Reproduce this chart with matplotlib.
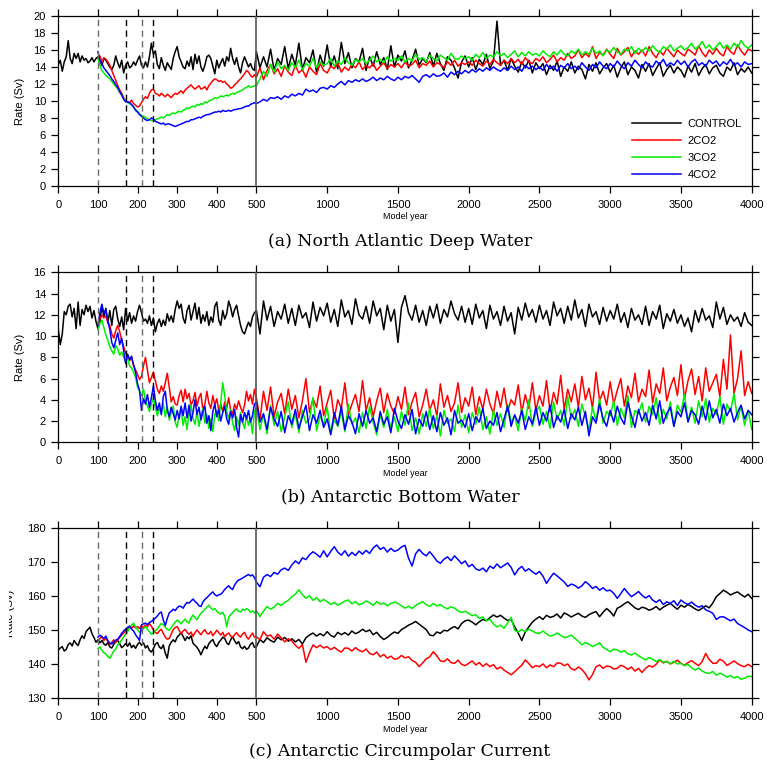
import numpy as np
import matplotlib
matplotlib.use("Agg")
import matplotlib.pyplot as plt
from matplotlib.transforms import Bbox, TransformedBbox

plt.rcParams['font.family'] = ['Liberation Sans', 'DejaVu Sans']

# ---------------- data ----------------
SERIES_NAMES = ["CONTROL", "2CO2", "3CO2", "4CO2"]
SERIES_COLORS = ["#000000", "#ff0000", "#00ee00", "#0000ff"]
PANEL_TITLES = ["(a) North Atlantic Deep Water", "(b) Antarctic Bottom Water",
                "(c) Antarctic Circumpolar Current"]
X_TICKS = [0, 100, 200, 300, 400, 500, 1000, 1500, 2000, 2500, 3000, 3500, 4000]
EVENT_YEARS = [100, 170, 210, 240]
BREAK_YEAR = 500

# ---- Panel (a) NADW ----
A_CTRL_L = [14.3, 14.8, 13.5, 14.6, 15.2, 17.1, 15.0, 14.4, 15.6, 15.0,
            15.6, 14.6, 15.3, 14.8, 15.0, 14.5, 14.7, 15.1, 14.6, 15.0,
            15.2, 14.7, 14.2, 15.0, 14.8, 14.4, 14.0, 13.7, 14.2, 15.3,
            14.5, 13.9, 14.8, 13.3, 14.2, 14.6, 13.9, 14.1, 14.6, 14.2,
            14.8, 15.3, 14.2, 13.9, 14.6, 14.0, 15.2, 16.8, 15.5, 15.9,
            14.3, 13.8, 15.1, 14.2, 13.6, 14.5, 14.1, 13.7, 15.0, 15.8,
            16.4, 15.2, 14.6, 14.0, 13.8, 14.7, 14.1, 15.2, 13.7, 15.5,
            14.4, 15.3, 14.0, 13.5, 14.2, 15.2, 15.4, 15.0, 14.1, 13.2,
            14.8, 13.9, 14.5, 15.0, 14.1, 15.2, 14.7, 16.2, 15.0, 14.3,
            15.1, 14.0, 13.3, 14.5, 15.2, 14.6, 14.0, 14.4, 13.8, 13.6]
A_2CO2_L = [15.0, 15.3, 14.6, 15.1, 14.9, 14.6, 14.2, 13.6, 13.0, 12.4,
            11.8, 11.3, 10.9, 10.4, 10.0, 9.9, 9.8, 10.1, 9.7, 9.5,
            9.3, 9.4, 9.8, 10.2, 10.5, 10.3, 10.9, 11.3, 11.4, 10.9,
            10.8, 10.6, 10.9, 10.7, 10.5, 10.8, 10.6, 10.4, 10.7, 10.9,
            10.8, 11.0, 11.2, 10.9, 11.3, 11.5, 11.7, 11.9, 11.6, 11.4,
            11.6, 11.8, 11.4, 11.5, 11.7, 11.3, 11.8, 12.1, 12.4, 12.6,
            12.5, 12.3, 12.4, 12.2, 12.3, 12.0, 11.8, 11.5, 11.6, 11.9,
            12.1, 12.4, 12.6, 12.9, 13.2, 13.6, 13.4, 13.0, 12.8, 13.1]
A_3CO2_L = [15.0, 14.2, 13.6, 13.3, 13.0, 12.8, 12.6, 12.3, 12.0, 11.7,
            11.4, 11.0, 10.7, 10.3, 10.0, 9.8, 9.7, 9.5, 9.3, 9.0,
            8.8, 8.5, 8.3, 8.2, 8.1, 7.9, 7.8, 7.7, 7.7, 7.8,
            7.9, 8.0, 8.1, 8.0, 8.2, 8.4, 8.3, 8.5, 8.6, 8.5,
            8.7, 8.8, 8.7, 8.9, 9.0, 9.2, 9.1, 9.3, 9.4, 9.3,
            9.6, 9.5, 9.7, 9.6, 9.9, 9.8, 10.0, 10.1, 10.2, 10.4,
            10.3, 10.4, 10.6, 10.5, 10.6, 10.7, 10.6, 10.8, 10.9, 10.8,
            11.0, 11.1, 11.2, 11.3, 11.5, 11.6, 11.8, 11.6, 11.7, 11.8]
A_4CO2_L = [15.8, 14.8, 14.4, 13.9, 13.6, 13.3, 13.0, 12.6, 12.3, 11.9,
            11.6, 11.1, 10.7, 10.2, 9.9, 9.9, 9.8, 9.6, 9.3, 8.9,
            8.7, 8.4, 8.2, 8.0, 7.8, 7.7, 7.8, 8.0, 7.9, 7.6,
            7.5, 7.4, 7.3, 7.4, 7.2, 7.3, 7.3, 7.2, 7.1, 7.0,
            7.1, 7.2, 7.3, 7.4, 7.5, 7.6, 7.6, 7.8, 7.8, 7.9,
            8.0, 8.1, 8.0, 8.2, 8.3, 8.4, 8.4, 8.5, 8.6, 8.7,
            8.7, 8.8, 8.7, 8.9, 8.8, 8.8, 8.9, 8.8, 8.9, 9.0,
            9.0, 9.1, 9.1, 9.2, 9.3, 9.4, 9.4, 9.6, 9.7, 9.8]
A_CTRL_R = [15.8, 13.9, 15.2, 14.0, 16.1, 13.6, 15.0, 14.3, 16.4, 13.8,
            15.5, 14.2, 16.8, 13.7, 15.1, 14.5, 16.0, 13.4, 15.4, 14.1,
            16.6, 14.0, 15.3, 13.8, 16.9, 14.4, 15.7, 13.9, 15.0, 14.6,
            16.2, 13.6, 15.2, 14.1, 15.8, 14.3, 15.1, 13.7, 16.5, 14.0,
            15.4, 14.7, 15.9, 13.9, 14.8, 16.1, 14.2, 15.0, 14.5, 15.7,
            14.1, 15.6, 14.4, 13.6, 15.2, 14.8, 13.9, 12.7, 14.6, 15.3,
            14.0, 15.1, 13.7, 14.9, 14.3, 15.5, 13.8, 14.7, 19.4, 14.2,
            14.8, 13.6, 15.0, 14.1, 13.4, 14.6, 13.9, 14.8, 13.3, 14.5,
            13.8, 14.4, 13.1, 14.2, 13.6, 14.7, 12.9, 14.0, 13.5, 14.6,
            13.3, 14.1, 13.7, 12.6, 14.3, 13.5, 14.5, 13.2, 13.9, 14.4,
            13.4, 14.2, 12.8, 13.9, 14.6, 13.1, 14.0, 13.6, 12.7, 14.3,
            13.5, 14.4, 13.0, 13.8, 14.5, 12.9, 13.7, 14.2, 13.3, 14.0,
            13.6, 12.8, 14.1, 13.4, 14.4, 13.0, 13.8, 14.3, 13.2, 13.9,
            14.2, 13.3, 12.9, 14.0, 13.6, 14.5, 13.1, 13.8, 13.4, 14.0,
            13.3]
A_2CO2_R = [12.8, 13.9, 12.5, 13.6, 14.3, 13.2, 13.8, 12.9, 14.1, 13.4,
            13.0, 14.2, 13.3, 13.7, 12.8, 14.0, 13.5, 13.1, 14.4, 13.6,
            13.3, 14.1, 13.8, 14.5, 13.4, 14.0, 13.6, 14.3, 13.9, 14.6,
            13.7, 14.2, 13.9, 14.4, 13.6, 14.1, 14.5, 13.8, 14.3, 14.0,
            14.4, 13.9, 14.6, 14.1, 14.3, 14.8, 13.9, 14.4, 14.2, 14.7,
            14.0, 14.5, 14.3, 13.9, 14.6, 14.2, 14.8, 14.1, 14.5, 14.3,
            14.6, 14.2, 14.8, 14.4, 14.1, 14.7, 14.3, 14.9, 14.5, 14.2,
            14.8, 14.4, 15.0, 14.5, 14.9, 14.3, 15.1, 14.6, 14.4, 15.0,
            14.7, 15.2, 14.5, 14.9, 15.4, 14.6, 15.1, 14.8, 15.6, 15.0,
            15.3, 16.0, 15.1, 15.6, 15.2, 16.4, 15.0, 15.7, 15.4, 16.1,
            15.5, 15.0, 16.2, 15.4, 15.8, 16.3, 15.2, 15.9, 15.5, 16.0,
            15.3, 16.4, 15.6, 15.1, 15.9, 15.4, 16.2, 15.7, 15.2, 16.0,
            15.6, 15.3, 16.1, 15.8, 15.4, 16.5, 15.7, 15.2, 16.0, 15.5,
            16.2, 15.6, 15.3, 16.4, 15.8, 15.5, 16.6, 15.9, 15.4, 16.1,
            15.9]
A_3CO2_R = [11.8, 12.6, 13.5, 12.9, 14.3, 13.4, 14.6, 13.8, 14.2, 13.6,
            14.5, 13.9, 14.8, 13.7, 14.4, 14.1, 15.0, 13.9, 14.6, 14.2,
            14.4, 15.0, 14.1, 14.7, 14.3, 15.1, 14.5, 14.2, 14.9, 14.6,
            15.0, 14.4, 14.8, 15.3, 14.6, 14.9, 14.5, 15.2, 14.7, 15.0,
            14.8, 15.3, 14.6, 15.0, 14.7, 15.5, 14.9, 15.1, 14.6, 15.4,
            15.0, 14.7, 15.4, 15.1, 14.8, 15.6, 15.0, 14.9, 15.3, 15.0,
            15.2, 14.8, 15.5, 15.1, 15.7, 15.0, 15.4, 15.2, 15.8, 15.3,
            15.6, 15.1, 15.5, 15.9, 15.2, 15.7, 15.3, 15.8, 15.4, 15.6,
            15.3, 15.9, 15.5, 15.2, 15.8, 15.4, 16.0, 15.5, 15.3, 15.9,
            15.6, 16.1, 15.4, 15.8, 15.5, 16.2, 15.6, 15.9, 15.3, 16.0,
            15.7, 16.3, 15.8, 15.5, 16.1, 15.9, 16.4, 15.6, 16.2, 15.8,
            16.3, 15.9, 16.5, 16.0, 15.7, 16.4, 16.1, 16.6, 15.9, 16.2,
            16.5, 16.0, 16.3, 16.8, 16.1, 16.4, 17.0, 16.2, 16.6, 16.0,
            16.4, 16.9, 16.2, 16.6, 16.1, 16.8, 16.3, 17.1, 16.5, 16.2,
            16.6]
A_4CO2_R = [9.7, 9.9, 10.2, 10.0, 10.4, 10.3, 10.5, 10.2, 10.6, 10.4,
            10.8, 10.6, 10.9, 10.7, 11.4, 11.1, 11.3, 11.0, 11.5, 11.6,
            11.4, 11.8, 11.6, 12.0, 12.3, 11.9, 12.4, 12.2, 12.5, 12.3,
            12.6, 12.3, 12.5, 12.8, 12.4, 12.7, 12.5, 12.9, 12.6, 12.4,
            12.8, 12.5, 12.9, 12.7, 13.0, 12.6, 12.2, 12.9, 13.1, 12.8,
            13.2, 12.9, 13.0, 13.3, 12.8, 13.4, 13.1, 13.5, 13.2, 13.6,
            13.3, 13.7, 13.4, 13.8, 13.5, 13.9, 13.6, 14.0, 13.7, 13.5,
            13.9, 13.6, 14.1, 13.7, 14.0, 13.5, 14.2, 13.8, 14.1, 13.7,
            14.0, 13.6, 14.3, 13.8, 14.1, 13.5, 14.2, 13.9, 14.4, 13.8,
            14.1, 13.7, 14.5, 14.0, 13.6, 14.3, 13.9, 14.6, 14.1, 13.8,
            14.4, 14.0, 14.7, 14.2, 13.8, 14.5, 14.1, 14.8, 14.3, 13.9,
            14.6, 14.2, 14.0, 14.7, 14.3, 14.9, 14.1, 14.5, 14.2, 14.8,
            14.3, 14.7, 14.0, 14.6, 14.9, 14.2, 14.5, 14.1, 14.8, 14.4,
            14.7, 14.1, 14.6, 14.3, 14.9, 14.2, 14.5, 14.0, 14.6, 14.3,
            14.4]

# ---- Panel (b) AABW ----
B_CTRL_L = [10.6, 9.2, 10.2, 12.3, 12.0, 12.8, 13.0, 11.8, 12.6, 10.7,
            13.2, 11.0, 12.5, 12.0, 12.9, 12.3, 12.8, 11.7, 12.4, 11.4,
            10.7, 11.3, 12.9, 11.8, 12.6, 11.2, 12.4, 11.0, 12.5, 12.8,
            11.6, 10.9, 11.8, 10.6, 12.6, 11.4, 12.2, 11.2, 11.9, 11.4,
            12.3, 12.9, 12.2, 11.4, 11.6, 11.2, 11.9, 11.0, 11.7, 10.4,
            11.2, 11.6, 10.9, 11.5, 11.0, 12.1, 11.4, 11.9, 11.3, 12.5,
            13.3, 12.6, 13.0, 11.7, 11.2, 12.4, 12.9, 11.5, 12.3, 13.1,
            11.6, 12.7, 11.2, 12.0, 11.4, 12.3, 11.0, 11.8, 11.3, 12.8,
            13.2, 11.5, 11.0, 12.4, 11.6, 12.1, 13.3, 12.7, 11.8, 12.5,
            12.9, 11.9, 11.0, 10.4, 10.2, 10.8, 11.3, 10.9, 11.8, 12.2]
B_2CO2_L = [11.2, 11.6, 12.0, 11.7, 11.9, 11.3, 11.0, 10.2, 9.8, 10.5,
            11.0, 10.4, 9.6, 9.0, 8.4, 8.0, 7.7, 7.9, 7.2, 6.8,
            6.4, 5.9, 6.2, 7.2, 8.0, 6.8, 5.6, 6.1, 6.6, 5.8,
            5.0, 4.6, 5.3, 4.8, 5.6, 6.5, 5.2, 3.8, 4.3, 3.6,
            3.5, 4.4, 4.9, 3.8, 5.0, 4.1, 4.6, 3.5, 3.9, 4.7,
            3.4, 4.2, 4.6, 3.0, 3.6, 4.8, 3.7, 3.2, 4.4, 3.5,
            4.1, 3.0, 3.6, 2.9, 3.8, 3.2, 4.2, 3.0, 2.7, 3.6,
            3.1, 3.9, 3.3, 2.8, 3.5, 4.8, 3.9, 4.5, 3.6, 5.0]
B_3CO2_L = [10.6, 11.2, 11.5, 10.8, 10.1, 9.6, 9.0, 8.6, 8.3, 9.1,
            8.8, 8.2, 8.5, 8.0, 7.6, 7.9, 7.2, 7.0, 6.6, 6.1,
            5.2, 4.8, 4.4, 5.0, 3.9, 3.4, 2.9, 3.6, 4.1, 3.3,
            2.5, 3.2, 2.8, 3.6, 2.4, 3.3, 2.1, 2.8, 3.4, 1.9,
            1.4, 2.7, 3.1, 1.6, 2.4, 1.2, 2.8, 3.5, 2.2, 1.7,
            2.9, 1.5, 2.5, 3.2, 1.8, 2.6, 1.3, 2.2, 1.0, 2.6,
            3.0, 2.0, 3.8, 5.6, 4.4, 2.9, 2.2, 3.1, 1.8, 1.1,
            2.4, 1.6, 2.8, 1.9, 1.3, 2.5, 1.6, 2.3, 0.8, 2.9]
B_4CO2_L = [11.0, 12.2, 13.0, 12.1, 12.5, 11.4, 10.6, 9.4, 8.9, 9.6,
            10.3, 9.2, 9.8, 8.6, 7.4, 8.3, 7.8, 8.1, 7.3, 6.6,
            5.5, 4.9, 3.0, 4.1, 3.6, 4.5, 3.3, 4.2, 5.3, 3.9,
            3.0, 3.7, 2.6, 4.3, 4.8, 3.1, 2.4, 3.3, 2.7, 2.1,
            3.0, 2.2, 3.4, 2.5, 3.7, 2.3, 3.5, 2.0, 2.8, 4.0,
            2.6, 3.3, 2.1, 2.9, 3.4, 1.8, 2.5, 1.1, 2.9, 3.6,
            2.4, 3.1, 2.0, 2.8, 3.4, 2.2, 1.7, 2.9, 2.3, 3.1,
            1.4, 0.5, 2.6, 1.9, 2.8, 2.2, 3.0, 1.9, 2.5, 3.6]
B_CTRL_R = [12.4, 10.2, 13.3, 11.5, 12.8, 10.9, 12.3, 11.6, 13.0, 11.2,
            12.6, 11.0, 12.9, 11.7, 12.2, 10.8, 13.2, 11.4, 12.7, 11.9,
            13.1, 11.3, 12.5, 10.9, 13.4, 11.8, 12.4, 11.1, 13.5, 12.0,
            11.6, 12.8, 11.2, 13.3, 11.9, 12.6, 10.6, 12.9, 11.4, 12.5,
            9.4, 12.7, 13.8, 12.2, 11.5, 12.9, 11.3, 12.4, 11.0, 12.8,
            11.7, 13.0, 11.2, 12.5, 11.8, 13.3, 12.1, 11.5, 12.8, 11.3,
            12.6, 11.1, 13.0, 11.7, 12.4, 10.7, 12.9, 11.6, 12.3, 11.0,
            12.8, 11.4, 12.2, 10.2, 12.7, 11.5, 13.1, 11.8, 12.5, 11.3,
            12.9, 11.6, 12.4, 11.0, 13.2, 11.9, 12.6, 11.2, 12.8, 11.5,
            13.4, 11.7, 12.5, 10.9, 13.0, 11.8, 12.3, 11.1, 12.7, 11.4,
            12.4, 11.6, 13.0, 11.3, 12.2, 10.8, 12.6, 11.5, 12.0, 11.1,
            12.8, 11.0, 12.3, 11.6, 12.9, 10.7, 12.1, 11.4, 12.5, 11.2,
            12.0, 10.9, 11.7, 10.4, 12.4, 11.3, 12.6, 11.5, 11.9, 10.8,
            13.2, 11.6, 12.7, 11.1, 12.0, 11.4, 11.8, 10.9, 12.2, 11.3,
            11.0]
B_2CO2_R = [4.2, 2.1, 4.8, 3.0, 5.2, 2.4, 3.8, 4.6, 2.7, 5.0,
            3.1, 4.4, 2.3, 3.9, 6.0, 2.8, 4.1, 3.3, 5.3, 2.5,
            3.7, 4.9, 2.2, 4.0, 3.2, 5.6, 2.6, 3.6, 4.5, 2.9,
            5.8, 3.0, 4.2, 2.4, 3.9, 5.1, 2.8, 4.6, 3.4, 2.7,
            4.3, 3.1, 5.2, 2.6, 3.8, 4.7, 2.4, 3.5, 5.0, 3.0,
            4.0, 2.5, 5.5, 3.3, 4.4, 2.9, 3.7, 5.6, 2.8, 4.2,
            3.4, 5.2, 2.6, 4.3, 3.1, 5.0, 3.6, 2.7, 4.8, 3.3,
            5.1, 2.9, 4.0, 3.5, 5.4, 2.8, 4.5, 3.2, 5.6, 3.0,
            4.4, 3.4, 5.8, 2.9, 4.7, 3.6, 6.3, 3.1, 5.0, 3.8,
            5.5, 3.3, 6.2, 4.0, 5.1, 3.2, 6.6, 3.9, 4.8, 3.5,
            5.7, 3.6, 4.9, 6.0, 3.4, 5.3, 4.2, 6.5, 3.8, 5.0,
            4.3, 6.8, 3.7, 5.5, 4.6, 7.0, 3.9, 5.2, 6.1, 4.4,
            7.3, 4.1, 5.8, 6.9, 4.5, 6.2, 3.9, 7.0, 4.8, 5.6,
            6.4, 4.3, 7.8, 5.0, 10.1, 4.6, 6.0, 8.6, 4.4, 5.7,
            4.6]
B_3CO2_R = [3.2, 1.2, 2.6, 0.8, 3.5, 1.6, 2.9, 1.0, 2.4, 3.8,
            1.4, 2.7, 0.9, 3.0, 1.8, 2.2, 4.2, 1.1, 2.5, 1.6,
            3.3, 0.8, 2.1, 1.5, 2.9, 1.0, 3.6, 1.7, 2.3, 0.9,
            2.8, 1.3, 3.4, 1.9, 0.7, 2.6, 1.4, 3.1, 1.2, 2.4,
            1.0, 2.9, 1.6, 3.7, 1.1, 2.3, 0.8, 2.7, 1.5, 3.2,
            1.3, 2.5, 0.6, 3.0, 1.8, 2.2, 1.0, 3.5, 1.4, 2.6,
            0.9, 2.8, 1.7, 3.3, 1.2, 2.4, 0.8, 3.0, 1.6, 2.7,
            1.4, 3.6, 1.9, 2.5, 1.1, 3.2, 2.0, 4.0, 1.5, 2.8,
            3.4, 1.7, 2.9, 1.3, 3.8, 2.1, 3.0, 1.6, 4.3, 2.2,
            3.1, 1.5, 3.6, 2.4, 1.2, 3.3, 2.0, 4.1, 1.8, 2.9,
            2.5, 3.9, 1.6, 3.2, 2.3, 4.4, 1.4, 3.0, 2.7, 3.7,
            1.9, 3.4, 2.6, 4.2, 1.7, 3.1, 2.2, 3.8, 1.5, 3.5,
            2.8, 4.5, 2.0, 3.3, 1.8, 3.9, 2.4, 4.1, 1.9, 3.2,
            2.6, 4.3, 1.7, 3.6, 2.9, 4.6, 2.1, 3.4, 1.6, 3.0,
            1.2]
B_4CO2_R = [3.8, 1.9, 2.7, 1.2, 3.3, 2.2, 1.5, 2.9, 0.9, 2.5,
            1.7, 3.1, 1.3, 2.4, 3.5, 1.1, 2.6, 1.8, 3.0, 1.4,
            2.2, 0.7, 2.8, 1.6, 3.4, 1.2, 2.5, 1.9, 0.8, 2.7,
            1.5, 3.0, 1.8, 2.3, 1.0, 2.9, 1.7, 2.4, 0.9, 3.2,
            2.0, 1.3, 2.6, 1.7, 3.1, 0.8, 2.2, 1.5, 2.9, 1.2,
            2.5, 1.0, 2.8, 1.6, 2.3, 0.7, 3.0, 1.8, 2.1, 1.4,
            2.7, 1.1, 2.4, 1.9, 3.2, 1.3, 2.0, 1.6, 2.8, 1.0,
            2.2, 3.4, 1.5, 2.6, 1.8, 3.0, 1.2, 2.4, 1.7, 3.3,
            1.6, 2.8, 2.0, 3.5, 1.4, 2.5, 1.9, 3.1, 1.3, 2.7,
            2.1, 3.3, 1.6, 2.9, 0.6, 2.4, 1.8, 3.6, 2.2, 1.5,
            3.0, 1.9, 3.4, 2.3, 1.7, 3.8, 2.5, 1.4, 3.1, 2.0,
            2.8, 1.6, 3.5, 2.2, 3.9, 1.8, 2.7, 3.3, 1.5, 2.9,
            2.4, 3.7, 1.9, 3.0, 2.6, 1.7, 3.4, 2.1, 3.9, 2.3,
            3.1, 1.8, 3.6, 2.5, 3.2, 1.9, 2.8, 3.5, 2.2, 3.0,
            2.6]

# ---- Panel (c) ACC ----
C_CTRL_L = [144.2, 144.8, 145.2, 143.9, 144.4, 145.8, 146.3, 145.4, 147.0, 146.1,
            145.5, 147.2, 148.4, 147.6, 149.6, 150.3, 150.9, 149.0, 147.9, 146.5,
            147.2, 146.3, 147.0, 146.0, 145.6, 146.4, 145.1, 144.8, 145.9, 146.6,
            147.1, 146.0, 144.9, 145.4, 146.1, 145.3, 146.3, 144.9, 145.6, 144.7,
            145.8, 146.5, 145.6, 146.3, 144.8, 145.5, 144.1, 143.6, 144.6, 145.9,
            146.4, 145.1, 144.6, 145.7, 143.3, 141.8, 145.4, 146.5, 147.2, 146.6,
            148.0, 148.6, 149.3, 148.2, 147.0, 148.1, 147.5, 148.4, 146.2, 145.6,
            145.0, 144.1, 142.8, 144.2, 145.3, 144.6, 146.1, 146.8, 147.3, 145.9,
            145.2, 146.4, 147.1, 148.0, 147.6, 146.3, 145.8, 147.2, 148.1, 146.9,
            146.0, 146.7, 145.1, 144.6, 145.3, 144.4, 144.8, 145.9, 146.4, 145.0]
C_2CO2_L = [146.5, 147.6, 148.2, 147.0, 147.6, 146.8, 145.8, 146.5, 147.2, 146.4,
            147.1, 147.9, 148.6, 149.2, 149.8, 150.4, 151.2, 150.6, 151.3, 150.7,
            151.1, 150.5, 151.4, 150.8, 151.6, 151.0, 152.0, 151.2, 150.1, 149.4,
            149.0, 149.8, 150.3, 149.1, 148.0, 147.4, 147.6, 148.9, 150.2, 150.8,
            151.1, 150.0, 149.0, 149.8, 150.3, 149.4, 148.8, 149.5, 148.2, 149.3,
            150.1, 149.4, 148.7, 149.6, 150.2, 149.1, 148.9, 149.7, 148.4, 149.2,
            150.0, 149.3, 148.6, 149.4, 148.1, 148.8, 149.2, 148.3, 147.9, 148.7,
            149.3, 148.5, 148.0, 148.9, 149.4, 148.1, 147.4, 148.3, 149.2, 148.0]
C_3CO2_L = [144.6, 145.1, 144.2, 143.4, 143.0, 142.3, 141.8, 142.8, 143.9, 144.5,
            145.8, 146.3, 147.2, 148.0, 148.9, 149.6, 150.8, 151.5, 152.1, 151.0,
            150.2, 149.4, 149.8, 150.5, 151.1, 150.3, 149.6, 148.8, 149.2, 149.9,
            150.4, 151.3, 152.0, 151.6, 150.9, 150.3, 150.0, 150.8, 151.6, 152.4,
            153.0, 152.6, 151.9, 152.7, 153.3, 152.5, 152.1, 153.6, 154.5, 153.7,
            153.1, 154.2, 155.0, 155.6, 156.2, 156.8, 157.4, 156.6, 156.0, 156.4,
            155.6, 155.1, 154.8, 155.3, 154.2, 151.0, 153.8, 154.6, 155.2, 155.9,
            156.3, 155.6, 155.4, 156.2, 155.8, 156.4, 156.0, 155.3, 155.7, 155.1]
C_4CO2_L = [148.0, 148.6, 148.1, 147.6, 148.3, 147.0, 146.2, 146.0, 146.6, 147.1,
            147.4, 148.2, 149.1, 149.8, 150.4, 150.9, 151.2, 150.3, 149.8, 148.7,
            147.9, 147.0, 151.6, 151.9, 152.1, 151.7, 152.3, 152.6, 153.1, 153.6,
            154.2, 155.0, 155.4, 153.0, 151.4, 153.5, 155.1, 155.6, 156.2, 155.8,
            156.6, 157.1, 157.0, 156.5, 157.5, 158.2, 158.0, 158.6, 159.2, 158.5,
            158.0, 157.2, 157.0, 158.3, 159.1, 159.6, 160.2, 160.8, 161.3, 160.5,
            160.1, 160.4, 160.6, 161.2, 162.0, 162.6, 163.1, 162.4, 162.0, 163.3,
            164.2, 164.8, 165.0, 165.4, 165.7, 166.1, 166.4, 166.0, 166.3, 165.5]
C_CTRL_R = [145.2, 147.3, 146.4, 147.8, 147.0, 146.5, 148.0, 147.2, 147.9, 146.8,
            147.5, 146.6, 147.3, 146.0, 147.8, 148.6, 149.2, 148.3, 149.0, 148.4,
            149.6, 148.5, 148.0, 149.4, 148.7, 149.3, 148.6, 149.8, 149.0, 149.5,
            150.3, 149.6, 150.1, 148.7, 149.4, 148.2, 147.3, 147.9, 148.8, 149.5,
            149.1, 150.2, 150.8, 151.5, 152.0, 152.6, 151.8, 151.0, 150.2, 148.6,
            148.4, 149.5, 149.1, 150.0, 149.8, 150.6, 151.1, 150.4, 152.0, 152.8,
            153.0, 152.4, 151.6, 152.5, 153.2, 152.8, 153.7, 154.5, 153.9, 154.4,
            153.6, 152.9, 153.2, 151.0, 149.2, 147.0, 149.5, 151.0, 152.4, 153.3,
            154.0, 153.2, 154.4, 153.8, 154.1, 154.8, 153.6, 155.1, 154.6, 153.9,
            154.5, 155.0, 154.2, 153.8, 154.6, 155.1, 155.5, 154.0, 155.3, 156.4,
            155.5, 154.2, 156.5, 157.0, 157.8, 158.4, 157.5, 156.6, 156.1, 156.8,
            156.5, 155.9, 156.3, 157.0, 156.0, 156.8, 157.4, 157.9, 157.0, 156.2,
            157.4, 156.8, 157.6, 157.0, 156.3, 155.8, 156.5, 157.2, 156.6, 158.0,
            159.9, 160.8, 161.8, 161.2, 160.4, 160.9, 161.3, 160.5, 159.8, 160.6,
            159.4]
C_2CO2_R = [148.1, 147.2, 149.6, 148.3, 148.6, 147.4, 148.9, 147.8, 146.6, 147.5,
            146.9, 145.6, 144.7, 145.8, 140.6, 143.4, 145.7, 144.9, 145.6, 144.8,
            145.2, 144.3, 145.0, 144.2, 143.6, 144.8, 144.7, 143.9, 144.9, 144.1,
            143.7, 144.5, 143.2, 142.8, 143.6, 142.2, 142.9, 141.8, 142.4, 141.5,
            141.7, 142.6, 141.9, 142.2, 141.1, 140.6, 139.3, 140.4, 141.6, 142.2,
            143.7, 142.5, 141.0, 140.8, 141.6, 140.5, 140.3, 141.2, 140.0, 139.6,
            140.3, 141.0, 139.8, 140.5, 139.4, 140.2, 139.3, 139.9, 138.6, 139.2,
            138.3, 137.6, 136.9, 137.8, 138.8, 139.7, 141.3, 140.2, 139.0, 139.6,
            139.3, 140.1, 139.0, 139.8, 139.3, 140.4, 140.3, 139.6, 140.1, 138.7,
            138.3, 139.2, 138.5, 137.2, 135.4, 137.0, 139.3, 139.8, 138.8, 139.5,
            139.3, 138.6, 138.8, 139.7, 139.3, 138.5, 139.2, 138.0, 138.8, 137.6,
            138.8, 139.6, 139.2, 140.0, 141.3, 140.4, 140.9, 140.1, 140.6, 141.2,
            140.3, 139.7, 140.5, 141.1, 140.3, 139.6, 140.8, 143.2, 141.4, 140.3,
            140.3, 141.5, 140.9, 139.7, 140.3, 141.0, 140.2, 139.6, 139.3, 140.0,
            139.3]
C_3CO2_R = [155.8, 154.0, 155.6, 157.0, 156.2, 156.8, 157.9, 157.3, 158.2, 158.8,
            159.9, 160.6, 161.9, 160.5, 159.4, 160.2, 158.8, 159.6, 158.4, 159.1,
            158.4, 157.6, 158.2, 157.4, 157.9, 158.6, 158.9, 157.8, 158.4, 157.5,
            157.9, 158.6, 158.1, 157.3, 158.4, 157.7, 158.0, 157.2, 157.9, 158.3,
            157.9, 157.2, 156.5, 157.1, 156.4, 157.3, 157.9, 158.4, 157.6, 157.0,
            157.9, 157.2, 157.6, 156.8, 156.3, 156.9, 156.5, 155.7, 155.2, 155.6,
            155.0, 154.3, 154.6, 153.5, 153.9, 152.8, 153.2, 151.9, 151.0, 151.5,
            150.6, 152.1, 153.8, 150.0, 149.5, 150.2, 149.6, 150.3, 149.8, 149.2,
            149.1, 149.8, 149.0, 148.3, 148.6, 149.2, 148.5, 147.9, 148.1, 148.6,
            147.6, 146.8, 145.7, 146.4, 145.9, 145.2, 145.7, 146.3, 145.0, 144.4,
            143.7, 144.5, 144.2, 143.6, 144.0, 143.1, 142.7, 143.3, 142.5, 141.9,
            141.3, 142.0, 141.5, 140.8, 141.4, 140.6, 140.8, 140.2, 140.9, 140.1,
            140.3, 139.6, 140.0, 139.0, 138.3, 138.9, 138.0, 137.5, 137.3, 137.9,
            136.8, 137.4, 136.9, 136.2, 136.7, 136.0, 136.4, 135.6, 135.9, 136.5,
            136.4]
C_4CO2_R = [164.2, 162.8, 165.6, 166.4, 165.8, 167.0, 166.5, 167.8, 168.3, 167.6,
            169.2, 170.4, 169.6, 171.3, 170.8, 172.2, 173.1, 172.4, 171.5, 173.4,
            171.6, 173.2, 174.6, 173.0, 172.1, 173.4, 171.8, 172.9, 172.0, 173.3,
            172.4, 173.5, 172.6, 174.2, 175.1, 173.8, 174.4, 173.0, 174.1, 173.2,
            173.6, 174.5, 175.0, 171.2, 168.9, 172.5, 173.8, 172.6, 171.9, 173.1,
            171.8, 170.4, 169.7, 170.9, 171.6, 170.5, 171.9, 170.8, 169.6, 170.4,
            168.7, 169.4, 168.1, 167.6, 168.3, 167.2, 168.9, 168.2, 169.5, 168.4,
            169.1, 169.8, 168.5, 166.3, 167.9, 168.8, 167.4, 168.1, 167.2, 166.5,
            167.3, 165.9, 163.8, 165.4, 166.8, 166.0, 165.1, 164.2, 162.9, 163.6,
            163.2, 162.4, 163.1, 164.3, 163.5, 162.3, 162.9, 161.8, 162.5, 161.6,
            161.8, 160.9, 159.4, 160.8, 162.3, 161.0, 159.9, 160.6, 161.4, 160.3,
            159.5, 160.2, 158.9, 158.2, 159.0, 157.6, 158.4, 157.9, 158.7, 157.3,
            158.9, 158.1, 157.6, 158.3, 157.4, 156.8, 157.2, 156.0, 155.6, 155.0,
            153.2, 153.9, 154.0, 153.4, 152.8, 153.3, 152.0, 151.4, 150.8, 150.1,
            149.6]

# year axes of the samples
YEARS_CTRL_L = np.arange(0, 500, 5)
YEARS_EXP_L = np.arange(100, 500, 5)
YEARS_R = np.arange(500, 4001, 25)

PANELS = [
    dict(left=[A_CTRL_L, A_2CO2_L, A_3CO2_L, A_4CO2_L],
         right=[A_CTRL_R, A_2CO2_R, A_3CO2_R, A_4CO2_R],
         ylim=(0, 20), yticks=list(range(0, 21, 2))),
    dict(left=[B_CTRL_L, B_2CO2_L, B_3CO2_L, B_4CO2_L],
         right=[B_CTRL_R, B_2CO2_R, B_3CO2_R, B_4CO2_R],
         ylim=(0, 16), yticks=list(range(0, 17, 2))),
    dict(left=[C_CTRL_L, C_2CO2_L, C_3CO2_L, C_4CO2_L],
         right=[C_CTRL_R, C_2CO2_R, C_3CO2_R, C_4CO2_R],
         ylim=(130, 180), yticks=list(range(130, 181, 10))),
]


# ---------------- broken (piecewise linear) x scale ----------------
def fwd(x):
    x = np.asarray(x, dtype=float)
    return np.where(x <= BREAK_YEAR, x, BREAK_YEAR + (x - BREAK_YEAR) / 2.8)


def inv(u):
    u = np.asarray(u, dtype=float)
    return np.where(u <= BREAK_YEAR, u, BREAK_YEAR + (u - BREAK_YEAR) * 2.8)


W, H = 767, 766
fig = plt.figure(figsize=(W / 100, H / 100), dpi=100)

ax_left = 58.3 / W
ax_w = (751.7 - 58.3) / W
ax_tops = [16, 272.3, 528.3]
ax_h_px = 170
title_y = [242, 497, 752]
ylabel_right_px = [25, 25, 15]

for i, p in enumerate(PANELS):
    top = ax_tops[i]
    ax = fig.add_axes([ax_left, 1 - (top + ax_h_px) / H, ax_w, ax_h_px / H])
    ax.set_xscale('function', functions=(fwd, inv))

    for k in range(4):
        xl = YEARS_CTRL_L if k == 0 else YEARS_EXP_L
        xs = np.concatenate([xl, YEARS_R])
        ys = np.concatenate([np.asarray(p['left'][k]), np.asarray(p['right'][k])])
        ax.plot(xs, ys, color=SERIES_COLORS[k], lw=1.1, label=SERIES_NAMES[k],
                zorder=2 + k * 0.1)

    for yr in EVENT_YEARS:
        col = '#6a6a6a' if yr in (100, 210) else '#000000'
        ax.axvline(yr, color=col, lw=1.0, ls=(0, (4.5, 3.2)), zorder=4)
    ax.axvline(BREAK_YEAR, color='#555555', lw=1.2, zorder=4)

    ax.set_xlim(0, 4000)
    ax.set_ylim(*p['ylim'])
    ax.set_xticks(X_TICKS)
    ax.set_xticklabels([str(t) for t in X_TICKS])
    ax.set_yticks(p['yticks'])
    ax.minorticks_off()
    ax.tick_params(which='major', direction='out', length=4.8, width=0.9,
                   top=True, right=True, labelsize=8, colors='black')
    ax.tick_params(axis='x', pad=5)
    ax.tick_params(axis='y', pad=4)
    for s in ax.spines.values():
        s.set_linewidth(0.9)

    ax.set_xlabel('Model year', fontsize=6.5, labelpad=2)
    ax.set_ylabel('Rate (Sv)', fontsize=8)
    ax.yaxis.set_label_coords((ylabel_right_px[i] - 58.3) / (751.7 - 58.3), 0.5)
    if i == 2:
        lab = ax.yaxis.label
        lab.set_clip_box(TransformedBbox(Bbox.from_extents(9.3 / W, 0, 1, 1),
                                         fig.transFigure))
        lab.set_clip_on(True)

    if i == 0:
        ax.legend(loc='upper left', bbox_to_anchor=((631.7 - 58.3) / 693.4, 0.395),
                  frameon=False, fontsize=8, handlelength=4.4, handletextpad=0.6,
                  labelspacing=0.62, borderpad=0, borderaxespad=0)

    fig.text(400 / W, 1 - title_y[i] / H, PANEL_TITLES[i], ha='center', va='center',
             fontsize=12.5, family=['DejaVu Serif'])

fig.savefig('out.png', dpi=100)
